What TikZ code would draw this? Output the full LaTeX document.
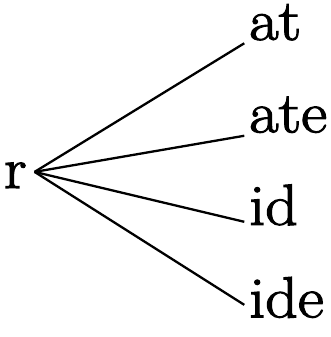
\documentclass[tikz,border=0pt]{standalone}
\usepackage{fontspec}
\newfontfamily\treefont{Latin Modern Roman}[FakeBold=2,FakeStretch=1.1]
\usepackage{tikz}
\usetikzlibrary{trees}
\tikzstyle{every node}=[font=\treefont\fontsize{58}{60}\selectfont,inner sep=0pt,anchor=base west]
\tikzstyle{leaf}=[outer xsep=5pt,outer ysep=3pt]
\tikzstyle{edge from parent}=[draw,line width=2.3pt]

\begin{document}
\begin{tikzpicture}[x=1pt,y=1pt,
    grow via three points={one child at (229,135.5) and
    two children at (229,135.5) and (229,43)},
    edge from parent path={(\tikzparentnode.10) -- (\tikzchildnode.south west)}]
    \useasboundingbox (0,0) rectangle (330,-337);
    \node[outer xsep=8pt] (r) at (-4,-188) {r}
        child { node[leaf] (at) {at}}
        child { node[leaf] (ate) {ate}}
        child [edge from parent path={(\tikzparentnode.10) -- (\tikzchildnode.210)}]
            { node[leaf] (id) {id}}
        child [edge from parent path={(\tikzparentnode.10) -- (\tikzchildnode.190)}]
            { node[leaf] (ide) {ide}};
\end{tikzpicture}
\end{document}
